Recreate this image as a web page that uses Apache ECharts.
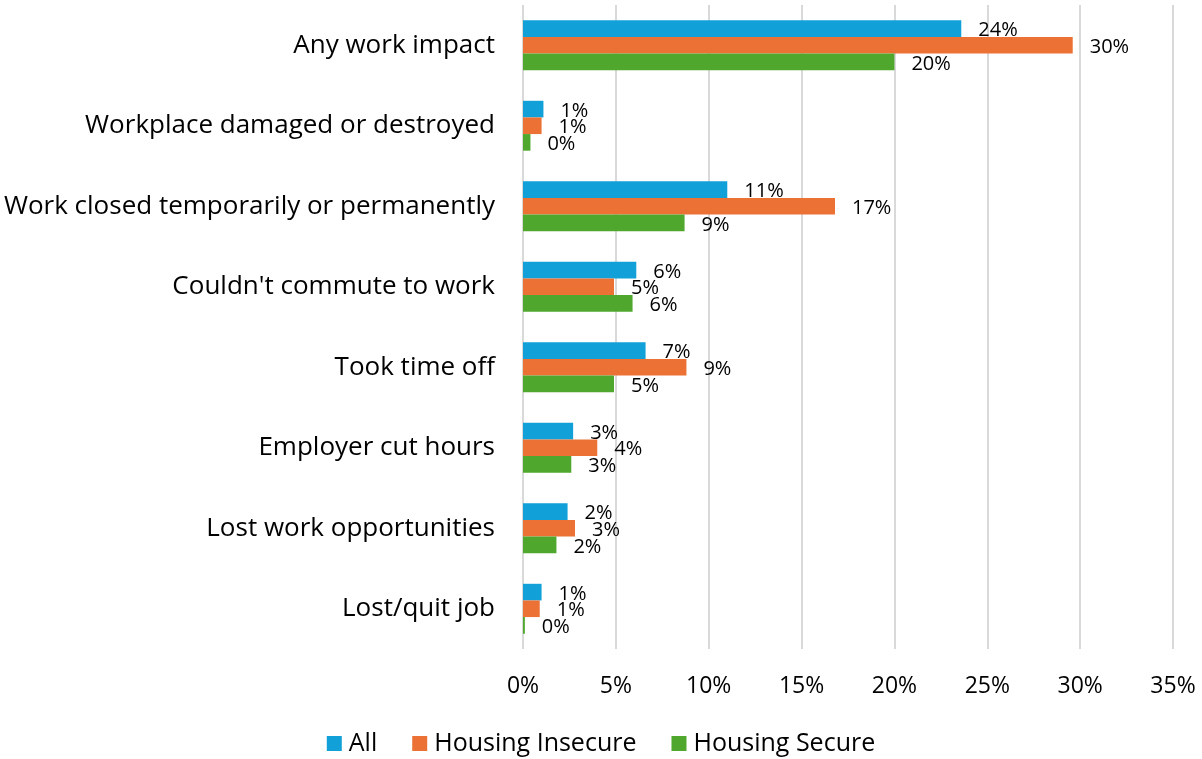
<!DOCTYPE html>
<html>
<head>
<meta charset="utf-8">
<script src="https://cdn.jsdelivr.net/npm/echarts@6/dist/echarts.min.js"></script>
<style>
  html, body { margin: 0; padding: 0; background: #fff; }
  #chart { width: 1202px; height: 759px; }
</style>
</head>
<body>
<div id="chart"></div>
<script>
// Work impacts by housing status (percent of respondents)
const categories = [
  'Any work impact',
  'Workplace damaged or destroyed',
  'Work closed temporarily or permanently',
  "Couldn't commute to work",
  'Took time off',
  'Employer cut hours',
  'Lost work opportunities',
  'Lost/quit job'
];
const allValues      = [23.6, 1.1, 11.0, 6.1, 6.6, 2.7, 2.4, 1.0];
const insecureValues = [29.6, 1.0, 16.8, 4.9, 8.8, 4.0, 2.8, 0.9];
const secureValues   = [20.0, 0.4, 8.7, 5.9, 4.9, 2.6, 1.8, 0.1];
const seriesNames = ['All', 'Housing Insecure', 'Housing Secure'];
const seriesColors = ['#11A0D7', '#EB7134', '#4FA72E'];
const tickStep = 5;
const tickMax = 35;

const FONT = '"Open Sans", "Noto Sans", sans-serif';

function makeSeries(name, data, color) {
  return {
    name: name,
    type: 'bar',
    data: data,
    barGap: '0%',
    barCategoryGap: '38%',
    itemStyle: { color: color },
    label: {
      show: true,
      position: 'right',
      distance: 17,
      offset: [0, 2],
      color: '#000',
      fontFamily: FONT,
      fontSize: 20,
      formatter: p => Math.round(p.value) + '%'
    }
  };
}

const chart = echarts.init(document.getElementById('chart'), null, { renderer: 'canvas' });
chart.setOption({
  animation: false,
  backgroundColor: '#fff',
  grid: { left: 523, right: 29, top: 5, bottom: 110, containLabel: false },
  legend: {
    data: seriesNames,
    bottom: -2,
    left: 'center',
    icon: 'rect',
    itemWidth: 15,
    itemHeight: 15,
    itemGap: 35,
    itemStyle: { borderWidth: 0 },
    textStyle: { fontFamily: FONT, fontSize: 25, color: '#000', padding: [0, 0, 0, 2] }
  },
  xAxis: {
    type: 'value',
    min: 0,
    max: tickMax,
    interval: tickStep,
    axisLine: { show: false },
    axisTick: { show: false },
    splitLine: { show: true, lineStyle: { color: '#D9D9D9', width: 2 } },
    axisLabel: {
      margin: 26,
      color: '#000',
      fontFamily: FONT,
      fontSize: 23,
      formatter: v => v + '%'
    }
  },
  yAxis: {
    type: 'category',
    data: categories,
    inverse: true,
    axisLine: { show: false },
    axisTick: { show: false },
    axisLabel: {
      margin: 28,
      color: '#000',
      fontFamily: FONT,
      fontSize: 26
    }
  },
  series: [
    makeSeries(seriesNames[0], allValues, seriesColors[0]),
    makeSeries(seriesNames[1], insecureValues, seriesColors[1]),
    makeSeries(seriesNames[2], secureValues, seriesColors[2])
  ]
});
</script>
</body>
</html>
